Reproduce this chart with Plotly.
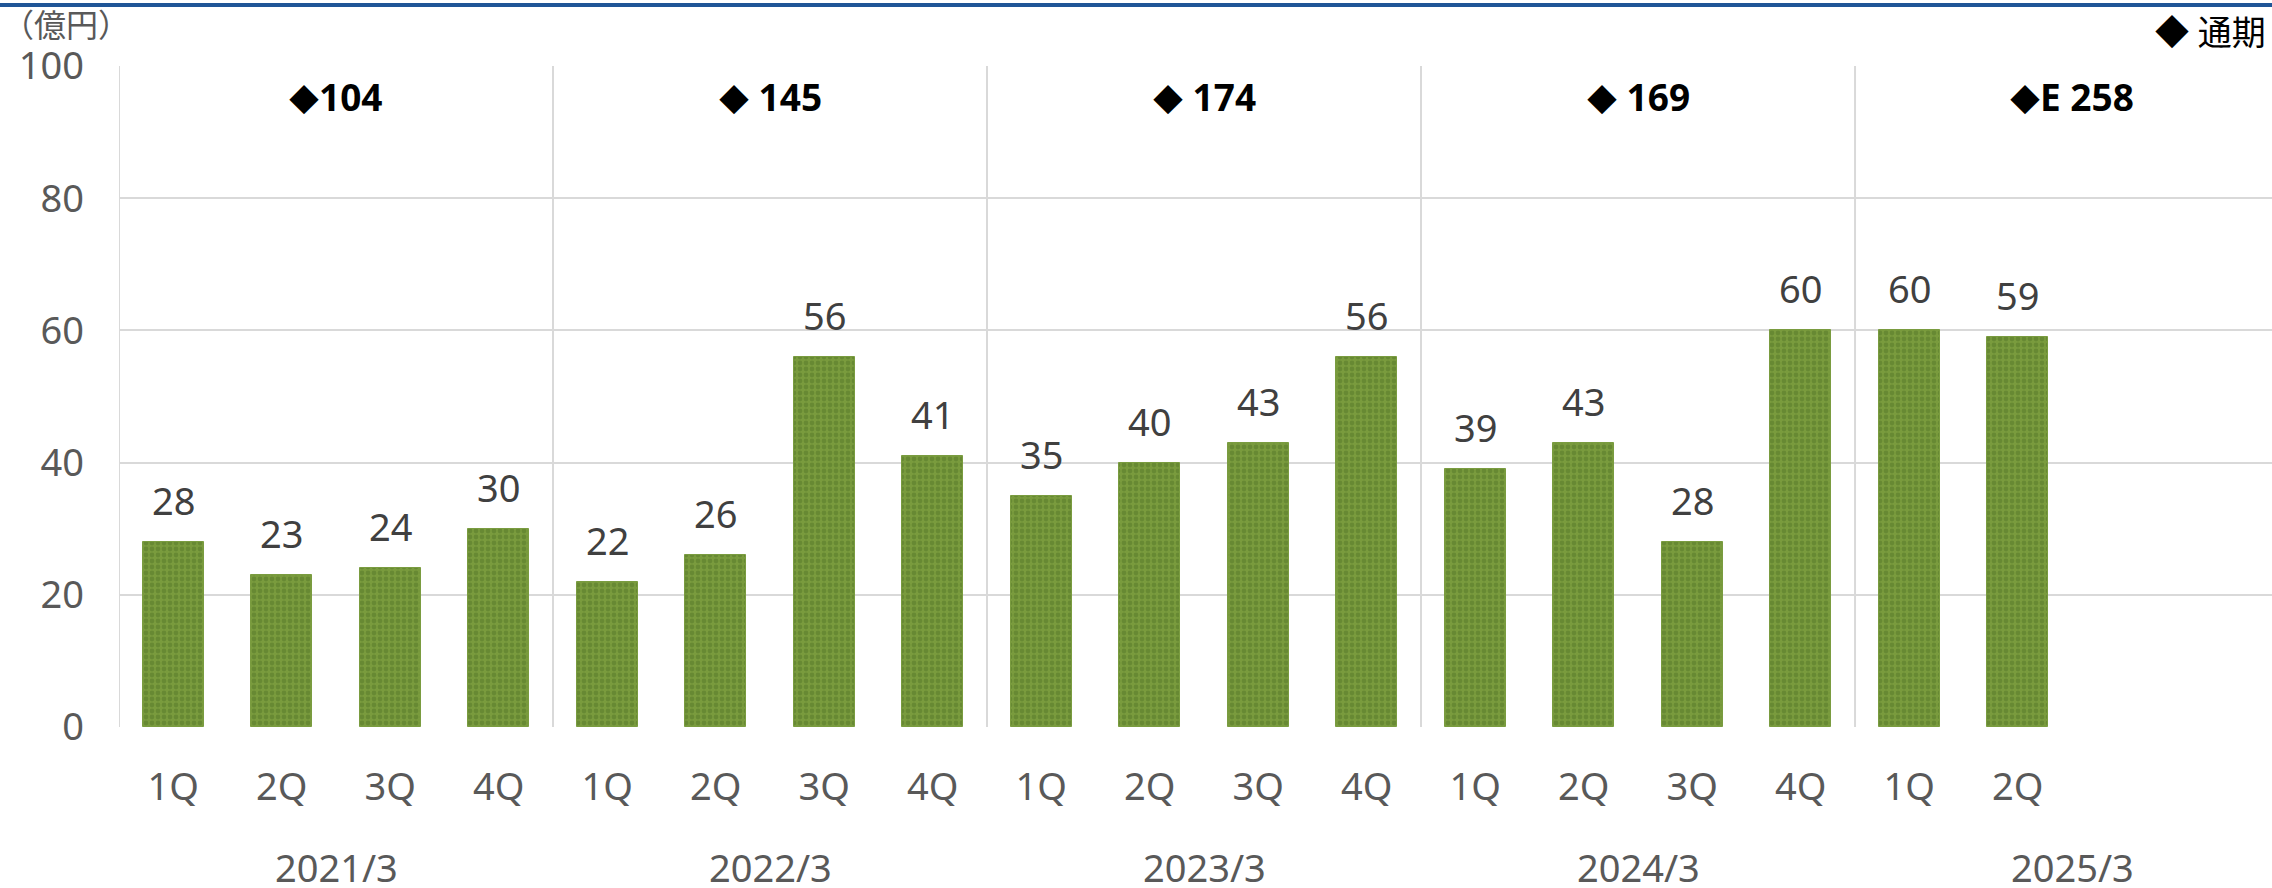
import plotly.graph_objects as go

# Fiscal years (each with four quarter slots) and quarterly values (億円)
years = ["2021/3", "2022/3", "2023/3", "2024/3", "2025/3"]
quarters = ["1Q", "2Q", "3Q", "4Q"]
values_2021 = [28, 23, 24, 30]
values_2022 = [22, 26, 56, 41]
values_2023 = [35, 40, 43, 56]
values_2024 = [39, 43, 28, 60]
values_2025 = [60, 59]
annual_totals = ["104", " 145", " 174", " 169", "E 258"]

series = [values_2021, values_2022, values_2023, values_2024, values_2025]

x_pos, y_val, tick_text = [], [], []
for g, vals in enumerate(series):
    for q, v in enumerate(vals):
        x_pos.append(g * 4 + q)
        y_val.append(v)
        tick_text.append(quarters[q])

FONT = "Noto Sans, Noto Sans CJK JP, sans-serif"
GRID = "#d9d9d9"
PLOT_H = 888 - 66 - 161
DIAMOND = '<span style="font-size:30px">◆</span>'

fig = go.Figure()
fig.add_trace(go.Bar(
    x=x_pos, y=y_val, width=0.56,
    marker=dict(
        color="#799b3d",
        line=dict(color="#7a9c40", width=1),
        pattern=dict(shape=".", fgcolor="#56772a", bgcolor="#799b3d",
                     size=6, solidity=0.5),
    ),
    hoverinfo="skip",
))

annotations = []
# value labels above bars
for x, v in zip(x_pos, y_val):
    annotations.append(dict(x=x, y=v, xref="x", yref="y", text=str(v),
                            showarrow=False, yanchor="bottom", yshift=14,
                            font=dict(family=FONT, size=38, color="#404040")))
# annual totals and year labels per group
for g, (yr, tot) in enumerate(zip(years, annual_totals)):
    cx = g * 4 + 1.5
    annotations.append(dict(x=cx, y=100, xref="x", yref="y",
                            text=f"<b>{DIAMOND}{tot}</b>",
                            showarrow=False, yanchor="middle", yshift=-30,
                            font=dict(family=FONT, size=37, color="#000000")))
    annotations.append(dict(x=cx, y=0, xref="x", yref="y", text=yr,
                            showarrow=False, yanchor="middle", yshift=-140,
                            font=dict(family=FONT, size=38, color="#595959")))
# unit and legend
annotations.append(dict(x=0, y=1, xref="paper", yref="paper", xanchor="left",
                        yanchor="middle", yshift=42, xshift=-119, text="（億円）",
                        showarrow=False,
                        font=dict(family=FONT, size=32, color="#595959")))
annotations.append(dict(x=1, y=1, xref="paper", yref="paper", xanchor="right",
                        yanchor="middle", yshift=34, xshift=-4, text="◆ 通期",
                        showarrow=False,
                        font=dict(family=FONT, size=34, color="#000000")))

shapes = []
# group separators and left frame
for sx in [-0.5, 3.5, 7.5, 11.5, 15.5]:
    shapes.append(dict(type="line", xref="x", yref="y", x0=sx, x1=sx, y0=0, y1=100,
                       line=dict(color=GRID, width=2), layer="below"))
# top rule of the page
rule_y = 1 + (66 - 5) / PLOT_H
shapes.append(dict(type="line", xref="paper", yref="paper", x0=-1, x1=2,
                   y0=rule_y, y1=rule_y,
                   line=dict(color="#1f5597", width=4)))

fig.update_layout(
    width=2272, height=888,
    margin=dict(l=119, r=0, t=66, b=161),
    paper_bgcolor="white", plot_bgcolor="white",
    showlegend=False,
    annotations=annotations,
    shapes=shapes,
    bargap=0,
)
fig.update_xaxes(
    range=[-0.5, 19.343], tickvals=x_pos, ticktext=tick_text,
    showgrid=False, zeroline=False, showline=False, ticks="",
    ticklabelstandoff=34,
    tickfont=dict(family=FONT, size=38, color="#595959"),
)
fig.update_yaxes(
    range=[0, 100], dtick=20, showgrid=True, gridcolor=GRID, gridwidth=2,
    zeroline=False, showline=False, ticks="", ticklabelstandoff=34,
    tickfont=dict(family=FONT, size=38, color="#595959"),
)

fig.write_html("out.html")
